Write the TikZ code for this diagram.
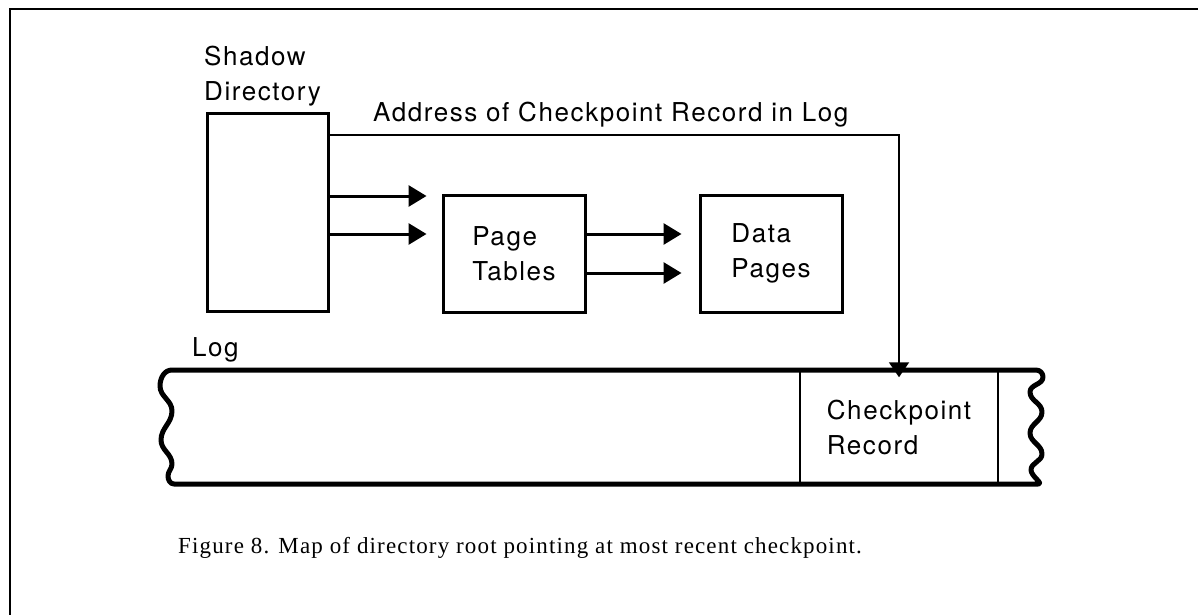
\documentclass[tikz,border=0pt]{standalone}
\usepackage{fontspec}
\usepackage{tikz}
\usetikzlibrary{arrows.meta,positioning,calc}
\newfontfamily\diagfont[LetterSpace=6]{TeX Gyre Heros}
\newfontfamily\capfont[LetterSpace=5]{Liberation Serif}

\begin{document}
\begin{tikzpicture}[x=1pt,y=-1pt,
	lbl/.style={inner sep=0pt,font={\diagfont\fontsize{26}{35}\selectfont},align=left},
	box/.style={draw,line width=3pt,lbl},
	fatarrow/.style={line width=3pt,-{Triangle[length=18pt,width=21pt]}},
	ptrarrow/.style={line width=2pt,-{Triangle[length=15pt,width=20pt]}}]
	\useasboundingbox (0,0) rectangle (1198,615);
	% frame
	\draw[line width=2.5pt] (10,615) -- (10,9) -- (1198,9);
	% boxes
	\node (sd) [box,minimum width=121pt,minimum height=197pt] at (267.5,212.5) {};
	\node (pt) [box,minimum width=142pt,minimum height=117pt] at (514,253.5) {Page\\Tables};
	\node (dp) [box,minimum width=142pt,minimum height=117pt] at (771,253.5) {Data\\Pages};
	\node (sdlbl) [lbl,anchor=north west] at (204,46) {Shadow\\Directory};
	\node (addr) [lbl,anchor=north west] at (373,102) {Address of Checkpoint Record in Log};
	\node (loglbl) [lbl,anchor=north west] at (192,337) {Log};
	% log strip
	\node (ckpt) [draw,line width=1.5pt,lbl,minimum width=198pt,minimum height=114pt] at (899,427) {Checkpoint\\Record};
	\draw[line width=5pt,line join=round,line cap=round] (172,370) -- (1036,370)
		to[out=0,in=90] (1043,377) to[out=-90,in=90] (1030,392) to[out=-90,in=90] (1042,412)
		to[out=-90,in=90] (1030,433) to[out=-90,in=90] (1042,454) to[out=-90,in=90] (1031,470)
		to[out=-90,in=0] (1038,484) -- (174,484)
		to[out=180,in=-90] (168,476) to[out=90,in=-90] (172,464) to[out=90,in=-90] (161,440)
		to[out=90,in=-90] (172,411) to[out=90,in=-90] (160,386) to[out=90,in=180] cycle;
	% pointers
	\coordinate (sdout) at ($(sd.north east)+(0,22)$);
	\draw[ptrarrow] (sdout) -| ([yshift=-8pt]ckpt.north);
	\draw[fatarrow] (sd.east |- 0,196) -- ([xshift=-15pt]pt.west |- 0,196);
	\draw[fatarrow] (sd.east |- 0,234) -- ([xshift=-15pt]pt.west |- 0,234);
	\draw[fatarrow] (pt.east |- 0,234) -- ([xshift=-17pt]dp.west |- 0,234);
	\draw[fatarrow] (pt.east |- 0,273) -- ([xshift=-17pt]dp.west |- 0,273);
	% caption
	\node (cap) [inner sep=0pt,anchor=base west,font={\capfont\fontsize{23}{27}\selectfont}] at (178,553) {Figure 8. Map of directory root pointing at most recent checkpoint.};
\end{tikzpicture}
\end{document}
